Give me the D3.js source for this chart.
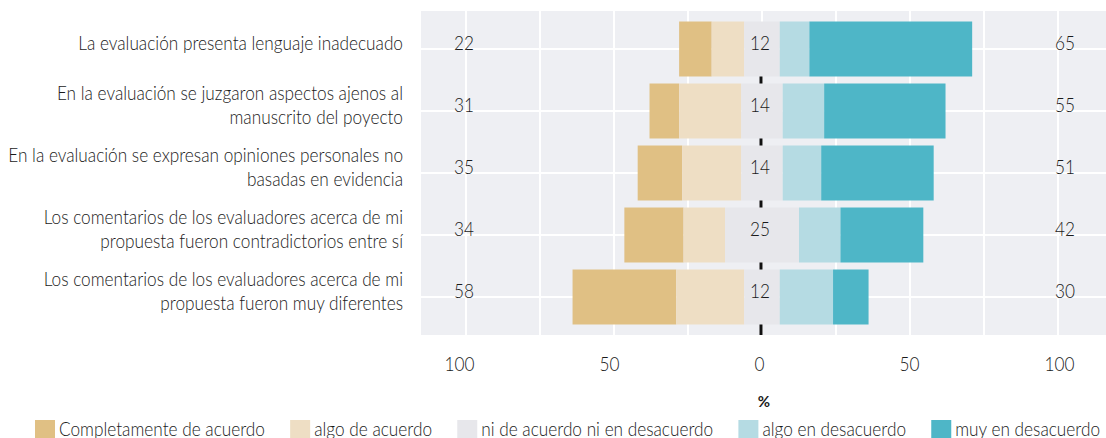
<!DOCTYPE html>
<html>
<head>
<meta charset="utf-8">
<script src="https://cdn.jsdelivr.net/npm/d3@7"></script>
<style>
  body { margin: 0; background: #fff; }
  svg text { font-family: Lato, "Open Sans", sans-serif; font-weight: 300; fill: #1a1a1a; }
</style>
</head>
<body>
<div id="chart"></div>
<script>
// data (percent)
const categories = [
  ["La evaluación presenta lenguaje inadecuado"],
  ["En la evaluación se juzgaron aspectos ajenos al", "manuscrito del poyecto"],
  ["En la evaluación se expresan opiniones personales no", "basadas en evidencia"],
  ["Los comentarios de los evaluadores acerca de mi", "propuesta fueron contradictorios entre sí"],
  ["Los comentarios de los evaluadores acerca de mi", "propuesta fueron muy diferentes"]
];
const levels = ["Completamente de acuerdo", "algo de acuerdo", "ni de acuerdo ni en desacuerdo", "algo en desacuerdo", "muy en desacuerdo"];
const completamenteAcuerdo = [11, 10, 15, 20, 35];
const algoAcuerdo = [11, 21, 20, 14, 23];
const neutral = [12, 14, 14, 25, 12];
const algoDesacuerdo = [10, 14, 13, 14, 18];
const muyDesacuerdo = [55, 41, 38, 28, 12];
const leftTotals = [22, 31, 35, 34, 58];
const rightTotals = [65, 55, 51, 42, 30];
const tickValues = [-100, -50, 0, 50, 100];
const gridValues = [-100, -75, -50, -25, 0, 25, 50, 75, 100];
const colors = ["#e0c084", "#eedec4", "#e7e7eb", "#b5dbe3", "#4eb6c7"];

let width = 1106, height = 438;
let panel = {left: 421, right: 1106, top: 11, bottom: 335};
let fs = 19;

let svg = d3.select("#chart").append("svg")
  .attr("width", width)
  .attr("height", height);

// the original font is a condensed one: squeeze text horizontally around its anchor
let probe = svg.append("text").style("font-size", fs + "px").text(categories[2][0]);
let squeezeF = 395 / probe.node().getComputedTextLength();
probe.remove();
function squeeze(sel, ax) {
  sel.attr("transform", "translate(" + ax + ",0) scale(" + squeezeF + ",1) translate(" + (-ax) + ",0)");
}

let x = d3.scaleLinear().domain([-100, 100]).range([466, 1058]);
// tick labels sit on a slightly wider scale in the original
let xTicks = d3.scaleLinear().domain([-100, 100]).range([459, 1059]);
let y = d3.scaleBand().domain(d3.range(categories.length))
  .range([18, 328]).paddingInner(0.113).paddingOuter(0.0565);

// panel + grid
svg.append("rect")
  .attr("x", panel.left).attr("y", panel.top)
  .attr("width", panel.right - panel.left).attr("height", panel.bottom - panel.top)
  .attr("fill", "#eeeff3");

svg.selectAll(".vgrid").data(gridValues).enter().append("line")
  .attr("class", "vgrid")
  .attr("x1", d => x(d)).attr("x2", d => x(d))
  .attr("y1", panel.top).attr("y2", panel.bottom)
  .attr("stroke", "#fff").attr("stroke-width", 2);

svg.selectAll(".hgrid").data(d3.range(categories.length)).enter().append("line")
  .attr("class", "hgrid")
  .attr("x1", panel.left).attr("x2", panel.right)
  .attr("y1", d => y(d) + y.bandwidth() / 2).attr("y2", d => y(d) + y.bandwidth() / 2)
  .attr("stroke", "#fff").attr("stroke-width", 2);

// center line (behind the bars)
svg.append("line")
  .attr("x1", x(0) - 1).attr("x2", x(0) - 1)
  .attr("y1", y(0) + y.bandwidth() / 2).attr("y2", panel.bottom)
  .attr("stroke", "#111").attr("stroke-width", 3);

// build segments
let series = [completamenteAcuerdo, algoAcuerdo, neutral, algoDesacuerdo, muyDesacuerdo];
let segments = [];
categories.forEach((c, i) => {
  let start = -(leftTotals[i] + neutral[i] / 2);
  series.forEach((s, k) => {
    segments.push({row: i, level: k, x0: start, x1: start + s[i]});
    start += s[i];
  });
});

svg.selectAll(".seg").data(segments).enter().append("rect")
  .attr("class", "seg")
  .attr("x", d => x(d.x0))
  .attr("width", d => x(d.x1) - x(d.x0))
  .attr("y", d => y(d.row))
  .attr("height", y.bandwidth())
  .attr("fill", d => colors[d.level]);

let rowMid = i => y(i) + y.bandwidth() / 2 - 6;

// value labels
function valueLabels(values, px) {
  svg.append("g").selectAll("text").data(values).enter().append("text")
    .attr("x", px).attr("y", (d, i) => rowMid(i))
    .attr("dy", "0.35em").attr("text-anchor", "middle")
    .style("font-size", fs + "px").text(d => d)
    .call(squeeze, px);
}
valueLabels(leftTotals, x(-100) - 2);
valueLabels(neutral, x(0) - 2);
valueLabels(rightTotals, x(100) + 7);

// category labels
let lineH = 24;
let labelX = 403;
let labels = svg.selectAll(".cat").data(categories).enter().append("text")
  .attr("text-anchor", "end")
  .style("font-size", fs + "px")
  .call(squeeze, labelX);
labels.each(function(lines, i) {
  let t = d3.select(this);
  let top = rowMid(i) - (lines.length - 1) * lineH / 2;
  lines.forEach((l, j) => {
    t.append("tspan").attr("x", labelX).attr("y", top + j * lineH).attr("dy", "0.35em").text(l);
  });
});

// x axis
let xAxis = d3.axisBottom(xTicks).tickValues(tickValues).tickSize(0).tickPadding(0)
  .tickFormat(d => Math.abs(d));
let gx = svg.append("g").attr("transform", "translate(0,357)").call(xAxis);
gx.select(".domain").remove();
gx.selectAll("text").style("font-size", fs + "px").attr("dy", "0.71em").attr("fill", "#1a1a1a")
  .style("font-family", null)
  .attr("transform", "scale(" + squeezeF + ",1)");

svg.append("text")
  .attr("x", x(0) + 2).attr("y", 402).attr("dy", "0.35em")
  .attr("text-anchor", "middle")
  .style("font-size", "15px").style("font-weight", "bold")
  .text("%");

// legend
let legend = svg.append("g");
let items = legend.selectAll(".leg").data(levels).enter().append("g");
items.append("rect").attr("width", 20).attr("height", 18).attr("y", 420)
  .attr("fill", (d, i) => colors[i]);
items.append("text").attr("x", 24).attr("y", 436)
  .style("font-size", fs + "px").text(d => d)
  .call(squeeze, 24);
let widths = [];
items.each(function() { widths.push(24 + squeezeF * d3.select(this).select("text").node().getComputedTextLength()); });
let gap = (1100 - 35 - d3.sum(widths)) / (levels.length - 1);
let pos = 35;
items.attr("transform", (d, i) => { let p = pos; pos += widths[i] + gap; return "translate(" + p + ",0)"; });
</script>
</body>
</html>
